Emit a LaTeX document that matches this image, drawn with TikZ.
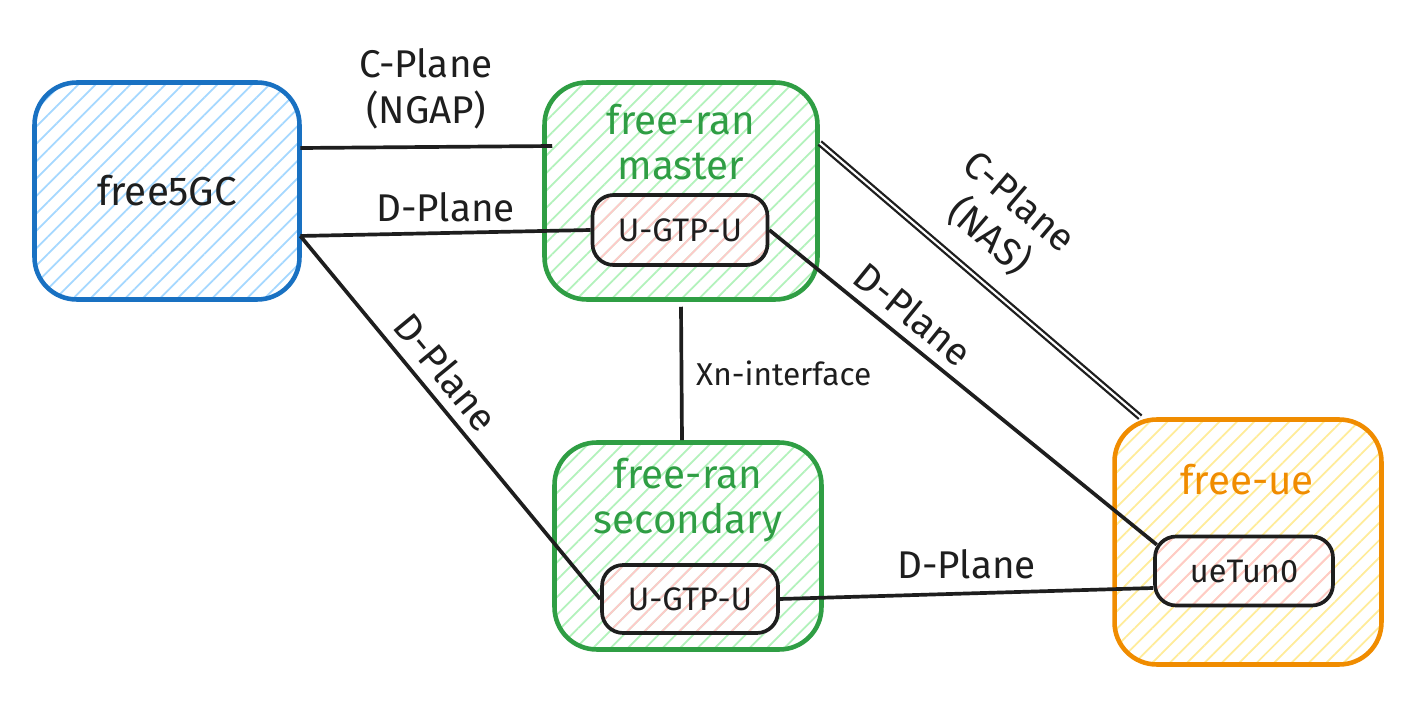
\documentclass[tikz,border=0pt]{standalone}
\usepackage{fontspec}
\setmainfont{Fira Sans}
\usetikzlibrary{patterns.meta,positioning}

\definecolor{ink}{HTML}{1E1E1E}
\definecolor{cblue}{HTML}{1971C2}
\definecolor{lblue}{HTML}{A5D8FF}
\definecolor{cgreen}{HTML}{2F9E44}
\definecolor{lgreen}{HTML}{B2F2BB}
\definecolor{corange}{HTML}{F08C00}
\definecolor{lyellow}{HTML}{FFEC99}
\definecolor{lpink}{HTML}{FFC9C9}

\begin{document}
\begin{tikzpicture}[x=0.02cm, y=-0.02cm,
    bigbox/.style={draw, line width=2.6pt, rounded corners=24pt, inner sep=0pt,
        pattern={Lines[angle=45,distance=7pt,line width=1pt]}},
    gtpbox/.style={draw=ink, line width=2.1pt, rounded corners=12pt, inner sep=0pt,
        pattern={Lines[angle=45,distance=7pt,line width=1pt]}, pattern color=lpink,
        text=ink, font=\fontsize{18.5}{22}\selectfont},
    boxtitle/.style={align=center, font=\fontsize{23}{26}\selectfont},
    link/.style={draw=ink, line width=2.1pt},
    linklabel/.style={text=ink, align=center, font=\fontsize{22}{26}\selectfont},
    xnlabel/.style={text=ink, font=\fontsize{18}{21}\selectfont}]

\fill[white] (0,0) rectangle (1428,702);
\useasboundingbox (0,0) rectangle (1428,702);

% boxes
\node[bigbox, draw=cblue, pattern color=lblue, minimum width=5.3cm, minimum height=4.34cm,
    text=ink, font=\fontsize{23}{26}\selectfont] (core) at (167,191) {free5GC};
\node[bigbox, draw=cgreen, pattern color=lgreen, minimum width=5.46cm, minimum height=4.34cm] (master) at (681,191) {};
\node[bigbox, draw=cgreen, pattern color=lgreen, minimum width=5.34cm, minimum height=4.14cm] (second) at (688,546) {};
\node[bigbox, draw=corange, pattern color=lyellow, minimum width=5.34cm, minimum height=4.9cm] (ue) at (1248,542) {};

\node[boxtitle, text=cgreen] (mtitle) at (681,142) {free-ran\\master};
\node[boxtitle, text=cgreen] (stitle) at (688,500) {free-ran\\secondary};
\node[boxtitle, text=corange] (uetitle) at (1247,480) {free-ue};

\node[gtpbox, minimum width=3.5cm, minimum height=1.4cm] (mgtp) at (680,230) {U-GTP-U};
\node[gtpbox, minimum width=3.52cm, minimum height=1.36cm] (sgtp) at (690,599) {U-GTP-U};
\node[gtpbox, minimum width=3.56cm, minimum height=1.38cm] (uetun) at (1244,571) {ueTun0};

% links
\draw[link] ([yshift=0.86cm]core.east) -- ([yshift=0.9cm,xshift=0.2cm]master.west)
    node[linklabel, midway, above=6pt] {C-Plane\\(NGAP)};
\draw[link] ([yshift=-0.9cm]core.east) coordinate (cd) -- (mgtp.west)
    node[linklabel, midway, above=2pt] {D-Plane};
\draw[link] (cd) -- (sgtp.west)
    node[linklabel, pos=0.42, sloped, above=2pt] {D-Plane};
\draw[link] (mgtp.east) -- ([xshift=2pt,yshift=-0.2cm]uetun.north west)
    node[linklabel, pos=0.33, sloped, above=2pt] {D-Plane};
\draw[link, line width=1.3pt, double=white, double distance=1.2pt]
    ([yshift=0.96cm]master.east) -- ([xshift=0.56cm]ue.north west)
    node[linklabel, pos=0.45, sloped, above=8pt] {C-Plane\\(NAS)};
\draw[link] ([yshift=-0.1cm]master.south) -- ([xshift=-0.12cm]second.north)
    node[xnlabel, midway, right=4pt] {Xn-interface};
\draw[link] (sgtp.east) -- ([yshift=-0.34cm]uetun.west)
    node[linklabel, midway, above=4pt] {D-Plane};

\end{tikzpicture}
\end{document}
